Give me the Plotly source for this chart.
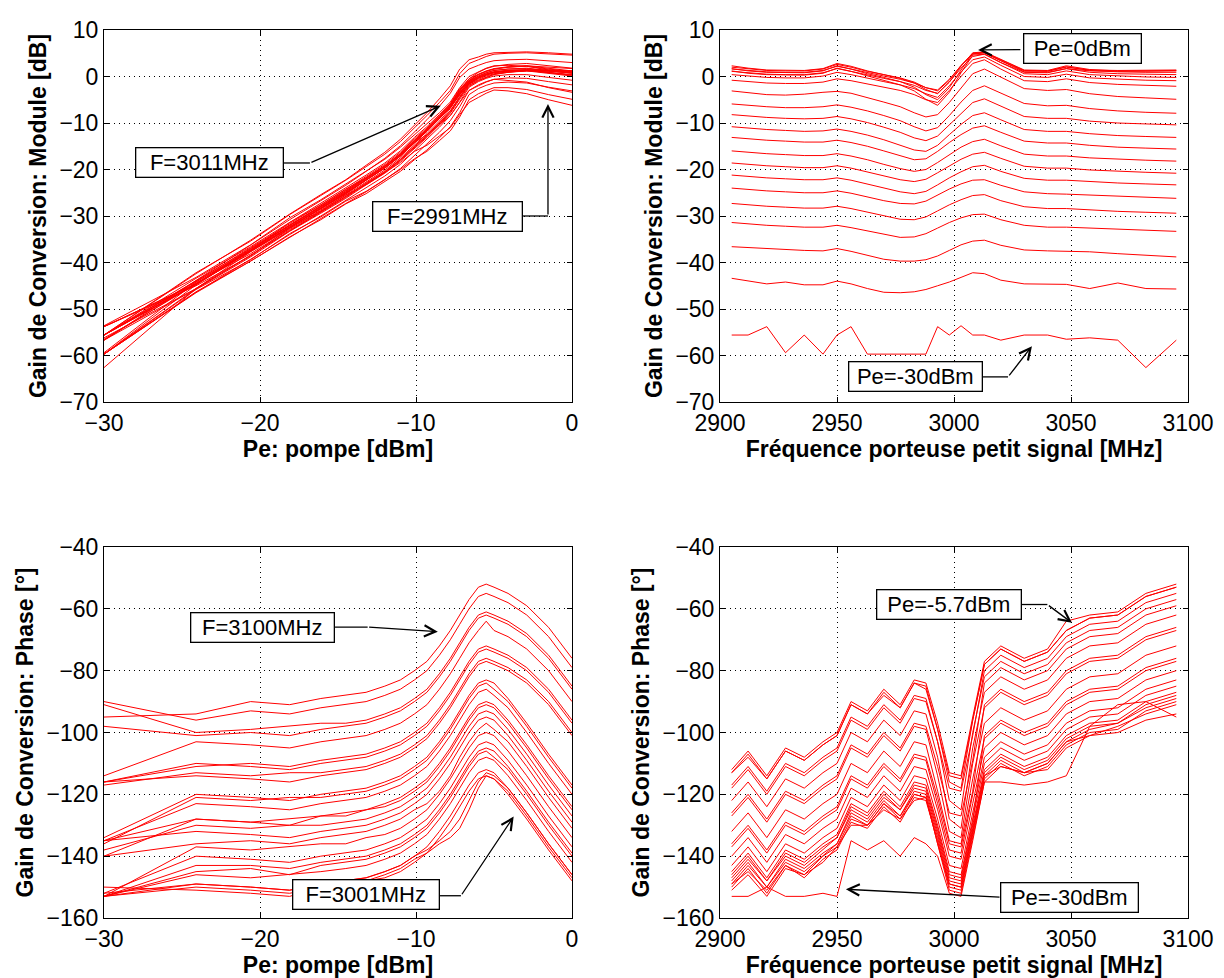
import plotly.graph_objects as go

# carrier frequency of the small signal (MHz) -> one column per value
F_MHZ = [2905, 2912, 2920, 2928, 2936, 2944, 2950, 2956, 2963, 2970, 2977, 2983, 2988,
         2993, 2998, 3003, 3008, 3013, 3020, 3030, 3040, 3048, 3058, 3070, 3082, 3095]

# pump power (dBm) -> one row per value
PE_DBM = [-30.0, -24.1, -20.6, -18.1, -16.1, -14.5, -13.2, -12.0, -11.0, -10.1, -9.3,
          -8.5, -7.8, -7.2, -6.6, -6.0, -5.5, -5.0, -4.1, -2.9, -1.5, 0.0]

# conversion gain, module (dB): GAIN_DB[pe][f]
GAIN_DB = [
    [-55.6, -55.6, -53.8, -59.4, -55.6, -59.7, -55.6, -53.8, -59.7, -59.7, -59.7, -59.7, -59.7,
     -53.8, -55.6, -53.6, -55.6, -55.6, -56.7, -55.6, -55.6, -56.5, -56.2, -56.7, -62.6, -56.7],
    [-43.4, -44.0, -44.6, -44.2, -44.8, -44.8, -44.0, -44.6, -45.6, -46.4, -46.5, -46.3, -45.8,
     -45.0, -44.2, -43.2, -42.2, -42.4, -43.8, -44.6, -44.6, -44.7, -45.6, -44.4, -45.6, -45.7],
    [-36.6, -36.8, -37.0, -37.2, -37.4, -37.5, -37.0, -37.6, -38.4, -39.3, -39.7, -39.7, -39.4,
     -38.6, -37.4, -36.2, -35.4, -35.2, -36.3, -37.3, -37.5, -37.6, -37.7, -38.1, -38.5, -38.8],
    [-31.4, -31.7, -32.0, -32.2, -32.4, -32.4, -32.0, -32.5, -33.2, -34.0, -34.6, -34.5, -33.8,
     -32.6, -31.4, -30.4, -29.7, -29.6, -30.8, -32.0, -32.4, -32.4, -32.6, -32.9, -33.1, -33.3],
    [-27.3, -27.6, -27.9, -28.1, -28.3, -28.3, -27.9, -28.4, -29.2, -30.0, -30.7, -30.8, -30.2,
     -28.9, -27.6, -26.5, -25.6, -25.4, -26.7, -28.0, -28.4, -28.4, -28.7, -29.0, -29.2, -29.4],
    [-24.0, -24.3, -24.6, -24.8, -25.0, -25.0, -24.6, -25.1, -25.9, -26.7, -27.3, -27.4, -26.8,
     -25.5, -24.2, -23.1, -22.3, -22.2, -23.4, -24.8, -25.2, -25.3, -25.5, -25.8, -26.0, -26.2],
    [-21.2, -21.5, -21.8, -22.0, -22.2, -22.2, -21.8, -22.3, -23.1, -24.0, -24.8, -25.2, -24.7,
     -23.3, -21.8, -20.5, -19.4, -19.1, -20.4, -21.9, -22.3, -22.3, -22.6, -22.9, -23.1, -23.3],
    [-18.6, -18.9, -19.2, -19.4, -19.6, -19.6, -19.2, -19.7, -20.5, -21.4, -22.2, -22.6, -22.1,
     -20.7, -19.2, -17.8, -16.7, -16.3, -17.6, -19.3, -19.7, -19.7, -20.1, -20.4, -20.6, -20.8],
    [-16.0, -16.3, -16.6, -16.8, -17.0, -17.0, -16.6, -17.1, -17.9, -18.9, -19.8, -20.4, -20.0,
     -18.5, -16.8, -15.2, -14.0, -13.5, -14.9, -16.7, -17.1, -17.1, -17.5, -17.8, -18.0, -18.2],
    [-13.1, -13.4, -13.7, -13.9, -14.1, -14.1, -13.7, -14.2, -15.0, -16.0, -17.0, -17.9, -17.7,
     -16.1, -14.2, -12.5, -11.1, -10.6, -12.0, -13.9, -14.3, -14.3, -14.8, -15.2, -15.4, -15.6],
    [-10.8, -11.1, -11.4, -11.6, -11.8, -11.7, -11.3, -11.8, -12.6, -13.6, -14.7, -15.8, -16.1,
     -14.8, -12.5, -10.3, -8.4, -7.8, -9.3, -11.4, -11.8, -11.8, -12.3, -12.7, -12.9, -13.1],
    [-8.2, -8.5, -8.8, -9.0, -9.1, -9.0, -8.6, -9.1, -9.9, -10.9, -12.0, -13.2, -13.8,
     -12.8, -10.4, -7.8, -5.6, -4.8, -6.4, -8.6, -9.0, -9.0, -9.6, -10.0, -10.2, -10.4],
    [-5.9, -6.2, -6.5, -6.7, -6.7, -6.5, -6.1, -6.6, -7.4, -8.4, -9.5, -10.8, -11.7,
     -11.0, -8.4, -5.5, -3.0, -2.0, -3.6, -5.8, -6.3, -6.2, -6.9, -7.4, -7.7, -7.9],
    [-3.1, -3.5, -3.9, -4.0, -3.8, -3.4, -3.2, -3.6, -4.5, -5.5, -6.5, -7.8, -8.7,
     -8.2, -5.6, -2.4, 0.6, 1.6, -0.2, -2.6, -3.0, -2.8, -3.7, -4.3, -4.6, -4.9],
    [-0.8, -1.1, -1.4, -1.5, -1.5, -1.2, -0.5, -0.9, -1.6, -2.3, -3.0, -3.9, -5.0,
     -5.6, -3.0, 0.0, 2.8, 3.6, 1.6, -0.9, -1.1, -0.5, -1.3, -1.7, -1.9, -2.1],
    [0.4, 0.1, -0.2, -0.3, -0.3, 0.1, 0.9, 0.4, -0.4, -1.1, -1.8, -2.6, -3.7,
     -4.5, -2.0, 1.0, 3.6, 4.2, 2.4, 0.0, -0.2, 0.5, -0.3, -0.6, -0.8, -0.9],
    [1.1, 0.8, 0.5, 0.4, 0.4, 0.8, 1.7, 1.1, 0.3, -0.4, -1.1, -1.9, -3.0,
     -3.6, -1.2, 1.8, 4.3, 4.8, 3.0, 0.6, 0.4, 1.2, 0.4, 0.1, -0.1, -0.2],
    [1.6, 1.3, 1.0, 0.9, 0.9, 1.3, 2.2, 1.6, 0.8, 0.1, -0.6, -1.4, -2.4,
     -2.9, -0.6, 2.3, 4.8, 5.1, 3.4, 1.0, 0.9, 1.7, 0.9, 0.6, 0.5, 0.4],
    [2.0, 1.6, 1.3, 1.2, 1.2, 1.6, 2.6, 2.0, 1.1, 0.4, -0.3, -1.2, -2.4,
     -3.1, -0.8, 2.4, 5.0, 5.2, 3.6, 1.3, 1.2, 2.1, 1.3, 1.0, 0.9, 0.9],
    [2.3, 1.8, 1.4, 1.3, 1.3, 1.7, 2.8, 2.2, 1.2, 0.4, -0.4, -1.4, -2.8,
     -3.7, -1.2, 2.2, 5.1, 5.3, 3.7, 1.4, 1.3, 2.3, 1.5, 1.2, 1.2, 1.3],
    [1.7, 1.2, 0.9, 0.8, 0.8, 1.2, 2.3, 1.6, 0.6, -0.2, -1.1, -2.3, -3.9,
     -5.0, -2.4, 1.4, 4.9, 5.1, 3.4, 1.2, 1.1, 2.0, 1.4, 1.3, 1.3, 1.4],
    [1.2, 0.7, 0.4, 0.3, 0.3, 0.7, 1.8, 1.1, 0.1, -0.8, -1.8, -3.1, -4.9,
     -6.2, -3.4, 0.8, 4.6, 4.8, 3.0, 0.9, 0.8, 1.7, 1.2, 1.1, 1.1, 1.2],
]

# conversion gain, phase (deg): PHASE_DEG[pe][f]
PHASE_DEG = [
    [-153, -153, -150, -153, -153, -152, -153, -135, -138, -135, -140, -134, -136,
     -140, -152, -153, -135, -116, -116, -117, -116, -114, -98, -91, -90, -95],
    [-149, -145, -151, -143, -146, -140, -137, -128, -130, -123, -128, -120, -121,
     -136, -149, -150, -132, -114, -111, -113, -110, -103, -101, -100, -96, -94],
    [-150, -144, -152, -143, -147, -141, -138, -129, -131, -124, -129, -121, -122,
     -135, -150, -151, -133, -115, -110, -114, -111, -104, -100, -99, -93, -90],
    [-151, -146, -153, -144, -146, -142, -137, -130, -130, -125, -128, -122, -121,
     -136, -151, -152, -134, -116, -111, -113, -112, -105, -101, -98, -94, -91],
    [-149, -143, -150, -142, -145, -140, -136, -127, -130, -123, -127, -120, -121,
     -134, -149, -150, -132, -114, -109, -113, -110, -103, -99, -97, -92, -89],
    [-148, -142, -150, -141, -144, -139, -136, -126, -129, -122, -127, -119, -120,
     -133, -148, -149, -131, -113, -108, -112, -109, -102, -98, -97, -91, -88],
    [-147, -141, -148, -140, -143, -138, -134, -125, -128, -121, -125, -118, -119,
     -132, -147, -148, -130, -112, -107, -111, -108, -101, -97, -96, -90, -87],
    [-145, -139, -147, -138, -141, -136, -133, -123, -126, -119, -124, -116, -117,
     -130, -145, -146, -128, -110, -105, -109, -106, -99, -95, -94, -88, -85],
    [-143, -137, -145, -136, -139, -134, -131, -121, -124, -117, -122, -114, -115,
     -128, -143, -144, -126, -108, -103, -107, -104, -97, -93, -92, -86, -83],
    [-140, -134, -142, -133, -136, -131, -128, -118, -121, -114, -119, -111, -112,
     -125, -140, -141, -123, -105, -100, -104, -101, -94, -90, -89, -83, -80],
    [-137, -131, -139, -130, -133, -128, -125, -115, -118, -111, -116, -108, -109,
     -123, -138, -139, -120, -102, -97, -101, -98, -91, -87, -86, -80, -77],
    [-132, -126, -134, -125, -128, -123, -120, -110, -113, -106, -111, -103, -104,
     -119, -135, -136, -115, -97, -92, -96, -93, -86, -82, -81, -75, -72],
    [-127, -121, -129, -120, -123, -118, -115, -105, -108, -101, -106, -98, -99,
     -114, -132, -134, -110, -92, -87, -91, -88, -81, -77, -76, -70, -67],
    [-122, -116, -124, -115, -118, -113, -110, -100, -103, -96, -101, -93, -94,
     -108, -128, -131, -105, -87, -82, -86, -83, -76, -72, -71, -65, -62],
    [-117, -111, -119, -110, -113, -108, -105, -95, -98, -91, -96, -88, -89,
     -103, -122, -125, -100, -82, -77, -81, -78, -71, -67, -66, -60, -57],
    [-113, -107, -115, -106, -109, -104, -101, -91, -94, -87, -92, -84, -85,
     -99, -116, -118, -96, -78, -73, -77, -74, -67, -63, -62, -56, -53],
    [-112, -106, -114, -105, -108, -103, -100, -90, -93, -86, -91, -83, -84,
     -97, -113, -114, -95, -77, -72, -76, -73, -64, -62, -61, -55, -52],
    [-113, -108, -115, -106, -109, -104, -101, -91, -94, -88, -92, -84, -86,
     -99, -114, -115, -96, -78, -73, -77, -74, -67, -63, -62, -56, -53],
    [-118, -112, -120, -111, -114, -109, -106, -96, -99, -92, -97, -89, -90,
     -103, -118, -119, -101, -80, -75, -79, -76, -69, -65, -64, -58, -55],
    [-126, -120, -128, -119, -122, -117, -114, -104, -107, -100, -105, -97, -98,
     -111, -126, -127, -109, -84, -79, -83, -80, -73, -69, -68, -62, -59],
    [-136, -130, -138, -129, -132, -127, -124, -114, -117, -110, -115, -107, -108,
     -121, -136, -137, -119, -91, -86, -90, -87, -80, -76, -75, -69, -66],
    [-146, -140, -148, -139, -142, -137, -134, -124, -127, -120, -125, -117, -118,
     -131, -146, -147, -129, -101, -96, -100, -97, -90, -86, -85, -79, -76],
]

RED = "#ff0000"
FONT = "Liberation Sans, Arial, Helvetica, sans-serif"
W, H = 1224, 978

fig = go.Figure()


def add_lines(x_list, y_lists, xa, ya):
    for ys in y_lists:
        fig.add_trace(
            go.Scatter(
                x=x_list, y=ys, mode="lines", xaxis=xa, yaxis=ya,
                line=dict(color=RED, width=1), showlegend=False, hoverinfo="skip",
            )
        )


n_f = len(F_MHZ)
# module vs pump power (one line per frequency)
add_lines(PE_DBM, [[row[j] for row in GAIN_DB] for j in range(n_f)], "x", "y")
# module vs frequency (one line per pump power)
add_lines(F_MHZ, GAIN_DB, "x2", "y2")
# phase vs pump power
add_lines(PE_DBM, [[row[j] for row in PHASE_DEG] for j in range(n_f)], "x3", "y3")
# phase vs frequency
add_lines(F_MHZ, PHASE_DEG, "x4", "y4")


def dom_x(left, right):
    return [left / W, right / W]


def dom_y(top, bottom):
    return [1 - bottom / H, 1 - top / H]


def axis(domain, rng, dtick, anchor, title, standoff):
    return dict(
        domain=domain, range=rng, tick0=rng[0], dtick=dtick, anchor=anchor,
        automargin=False,
        showline=True, linecolor="black", linewidth=1, mirror="ticks",
        ticks="inside", ticklen=5, tickcolor="black",
        showgrid=True, gridcolor="black", griddash="1px,4px", gridwidth=1,
        zeroline=False, tickfont=dict(size=23, color="black"),
        title=dict(text="<b>%s</b>" % title, font=dict(size=23, color="black"),
                   standoff=standoff),
    )


XL = dom_x(104, 572)
XR = dom_x(720, 1188)
YT = dom_y(30, 402)
YB = dom_y(547, 918)

fig.update_layout(
    template="none",
    width=W, height=H,
    margin=dict(l=0, r=0, t=0, b=0, autoexpand=False),
    paper_bgcolor="white", plot_bgcolor="white",
    font=dict(family=FONT, color="black"),
    xaxis=axis(XL, [-30, 0], 10, "y", "Pe: pompe [dBm]", 0),
    yaxis=axis(YT, [-70, 10], 10, "x", "Gain de Conversion: Module [dB]", 6),
    xaxis2=axis(XR, [2900, 3100], 50, "y2", "Fréquence porteuse petit signal [MHz]", 0),
    yaxis2=axis(YT, [-70, 10], 10, "x2", "Gain de Conversion: Module [dB]", 6),
    xaxis3=axis(XL, [-30, 0], 10, "y3", "Pe: pompe [dBm]", 0),
    yaxis3=axis(YB, [-160, -40], 20, "x3", "Gain de Conversion: Phase [°]", 6),
    xaxis4=axis(XR, [2900, 3100], 50, "y4", "Fréquence porteuse petit signal [MHz]", 0),
    yaxis4=axis(YB, [-160, -40], 20, "x4", "Gain de Conversion: Phase [°]", 6),
)

# boxed labels: text, x, y, axis suffix, box width
labels = [
    ("F=3011MHz", -23.24, -18.6, "", 144),
    ("F=2991MHz", -7.98, -30.0, "", 146),
    ("Pe=0dBm", 3054.7, 6.1, "2", 114),
    ("Pe=-30dBm", 2983.5, -64.6, "2", 130),
    ("F=3100MHz", -19.84, -65.9, "3", 140),
    ("F=3001MHz", -13.2, -152.5, "3", 143),
    ("Pe=-5.7dBm", 2997.9, -58.6, "4", 141),
    ("Pe=-30dBm", 3049.4, -153.5, "4", 134),
]
for text, x, y, ax, w in labels:
    fig.add_annotation(
        text=text, x=x, y=y, xref="x" + ax, yref="y" + ax, showarrow=False,
        font=dict(size=22, color="black"), bgcolor="white",
        bordercolor="black", borderwidth=1.3, borderpad=1, width=w, height=26,
    )

# connector legs without a head
legs = [
    (-18.46, -18.6, -16.8, -18.6, ""),
    (-3.14, -30.0, -1.54, -30.0, ""),
    (3012.4, -64.6, 3023.1, -64.6, "2"),
    (-15.19, -65.9, -13.1, -65.9, "3"),
    (-8.46, -152.8, -7.12, -152.8, "3"),
    (3029.0, -58.6, 3039.9, -58.6, "4"),
]
for x0, y0, x1, y1, ax in legs:
    fig.add_shape(
        type="line", x0=x0, y0=y0, x1=x1, y1=y1, xref="x" + ax, yref="y" + ax,
        line=dict(color="black", width=1.3),
    )

# arrows: tip x, tip y, tail x, tail y, axis suffix
arrows = [
    (-8.42, -6.3, -16.8, -18.6, ""),
    (-1.54, -5.9, -1.54, -30.0, ""),
    (3010.3, 5.7, 3029.0, 5.8, "2"),
    (3033.3, -58.0, 3023.1, -64.6, "2"),
    (-8.6, -67.4, -13.1, -65.9, "3"),
    (-3.74, -127.2, -7.12, -152.8, "3"),
    (3050.4, -64.5, 3039.9, -58.6, "4"),
    (2953.8, -150.7, 3020.1, -153.3, "4"),
]
for x, y, tx, ty, ax in arrows:
    fig.add_annotation(
        text="", x=x, y=y, ax=tx, ay=ty, xref="x" + ax, yref="y" + ax,
        axref="x" + ax, ayref="y" + ax, showarrow=True, arrowhead=5,
        arrowsize=1.7, arrowwidth=1.3, arrowcolor="black", standoff=0,
    )

# drop the default 8 px page margin so the figure fills the window exactly
fig.write_html(
    "out.html",
    config={"displayModeBar": False},
    post_script="document.body.style.margin='0px';document.body.style.overflow='hidden';",
)
